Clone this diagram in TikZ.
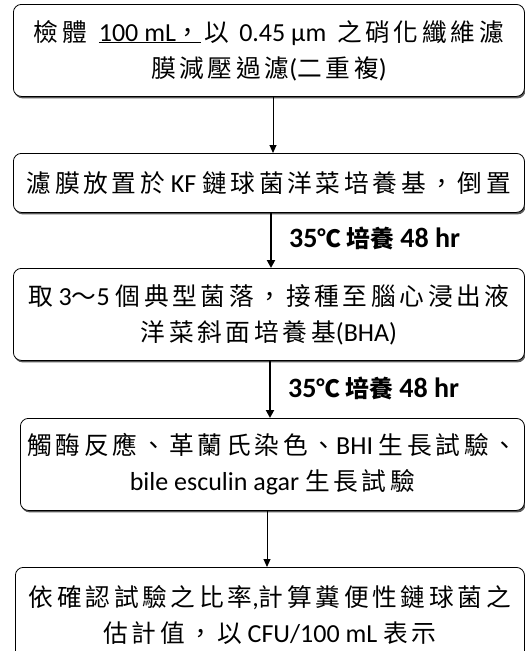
\documentclass[tikz,border=0pt]{standalone}
\usepackage{fontspec}
\setmainfont{Carlito}
\newfontfamily\cjk{Noto Sans CJK TC}[LetterSpace=15, Scale=0.95]
\newfontfamily\cjkb{Noto Sans CJK TC}[Scale=0.85]
\newcommand{\C}[1]{{\cjk #1}}
\newcommand{\CB}[1]{{\cjkb\bfseries #1}}
\usetikzlibrary{arrows.meta,shadows}
\begin{document}
\begin{tikzpicture}[x=1pt,y=-1pt,
  box/.style={draw=black, line width=0.8pt, rounded corners=8pt, fill=white, align=center,
    anchor=north west, inner sep=0pt,
    font=\fontsize{26}{36}\selectfont,
    drop shadow={shadow xshift=1.2pt, shadow yshift=-2pt, fill=black!65, opacity=1}},
  thinarrow/.style={line width=1pt, -{Triangle[width=7pt,length=8pt]}},
  thickarrow/.style={line width=2.2pt, -{Triangle[width=8pt,length=8pt]}},
  lbl/.style={anchor=west, inner sep=0pt, font=\fontsize{28}{30}\selectfont\bfseries}
]
\useasboundingbox (0,0) rectangle (525,651);
\clip (0,0) rectangle (525,651);

\node[box, minimum width=511pt, minimum height=92pt] (b1) at (13,4)
  {\C{檢體}\hspace{6pt} \underline{100 mL\C{，}}\hspace{4pt}\C{以}\hspace{4pt} 0.45 μm\hspace{5pt} \C{之硝化纖維濾}\\ \C{膜減壓過濾}(\C{二重複})};
\node[box, minimum width=511pt, minimum height=59pt] (b2) at (13,153)
  {\C{濾膜放置於} KF \C{鏈球菌洋菜培養基，倒置}};
\node[box, minimum width=511pt, minimum height=92pt] (b3) at (13,268)
  {\C{取} 3\C{～}5 \C{個典型菌落，接種至腦心浸出液}\\ \C{洋菜斜面培養基}(BHA)};
\node[box, minimum width=504pt, minimum height=92pt] (b4) at (20,418)
  {\C{觸酶反應、革蘭氏染色、}BHI \C{生長試驗、}\\ bile esculin agar \C{生長試驗}};
\node[box, minimum width=509pt, minimum height=95pt] (b5) at (15,567)
  {\C{依確認試驗之比率},\C{計算糞便性鏈球菌之}\\ \C{估計值，以} CFU/100 mL \C{表示}};

\node[lbl] (l1) at (289,238) {35\CB{℃}\hspace{5pt}\CB{培養} 48 hr};
\node[lbl] (l2) at (288,388) {35\CB{℃}\hspace{5pt}\CB{培養} 48 hr};

\draw[thinarrow] (b1.south -| 273,0) -- (b2.north -| 273,0);
\draw[thickarrow] (b2.south -| 271,0) -- (b3.north -| 271,0);
\draw[thickarrow] (b3.south -| 270,0) -- (b4.north -| 270,0);
\draw[thinarrow] (b4.south -| 267,0) -- (b5.north -| 267,0);
\end{tikzpicture}
\end{document}
